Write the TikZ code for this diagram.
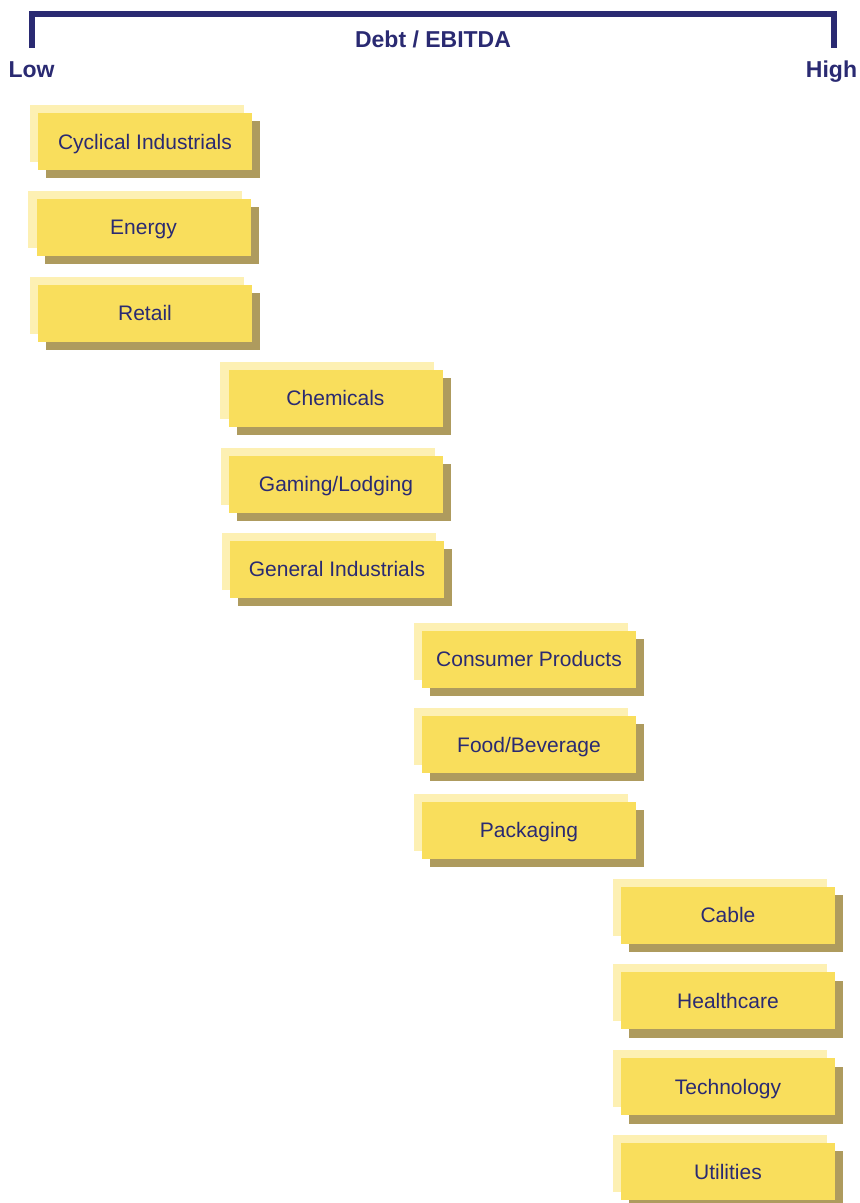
\documentclass[tikz,border=0pt]{standalone}
\usepackage{fontspec}
\setmainfont{Liberation Sans}
\usepackage{tikz}
\usetikzlibrary{shadows}
\usetikzlibrary{positioning}
\definecolor{sectoryellow}{HTML}{F9DE5C}
\definecolor{sectorlight}{HTML}{FDF0B3}
\definecolor{sectordark}{HTML}{AE9B5E}
\definecolor{scalenavy}{HTML}{2A2A72}

\begin{document}
\begin{tikzpicture}[x=1pt,y=-1pt,
    sector/.style={fill=sectoryellow, text=scalenavy, inner sep=0pt,
        minimum width=214pt, minimum height=57pt,
        text height=15pt, text depth=0pt,
        font=\fontsize{21}{25}\selectfont,
        general shadow={fill=sectorlight, shadow xshift=-8.3pt, shadow yshift=8pt},
        general shadow={fill=sectordark, shadow xshift=8pt, shadow yshift=-8.3pt}},
    scalelabel/.style={text=scalenavy, inner sep=0pt, anchor=base,
        font=\fontsize{23}{27}\selectfont\bfseries}]
      \useasboundingbox (0,0) rectangle (860,1203);

      % scale bracket
      \coordinate (lowend) at (32,47.5);
      \coordinate (highend) at (834,48);
      \draw[scalenavy, line width=5.3pt, line join=miter]
        (lowend) |- (highend |- 0,14) -- (highend);
      \node[scalelabel] (title) at (433,47.3) {Debt / EBITDA};
      \node[scalelabel] (low) at (31.5,77.3) {Low};
      \node[scalelabel] (high) at (831.5,77.3) {High};

      % sectors
      \node[sector] (cyclical) at (145,141.5) {Cyclical Industrials};
      \node[sector] (energy) at (143.5,227.3) {Energy};
      \node[sector] (retail) at (145,313.3) {Retail};

      \node[sector] (chemicals) at (335.5,398.3) {Chemicals};
      \node[sector] (gaming) at (336,484) {Gaming/Lodging};
      \node[sector] (genind) at (337,569.3) {General Industrials};

      \node[sector] (consumer) at (529,659.3) {Consumer Products};
      \node[sector] (food) at (529,744.5) {Food/Beverage};
      \node[sector] (packaging) at (529,830) {Packaging};

      \node[sector] (cable) at (728,915) {Cable};
      \node[sector] (healthcare) at (728,1000.7) {Healthcare};
      \node[sector] (technology) at (728,1086.7) {Technology};
      \node[sector] (utilities) at (728,1171.5) {Utilities};
    \end{tikzpicture}
\end{document}
